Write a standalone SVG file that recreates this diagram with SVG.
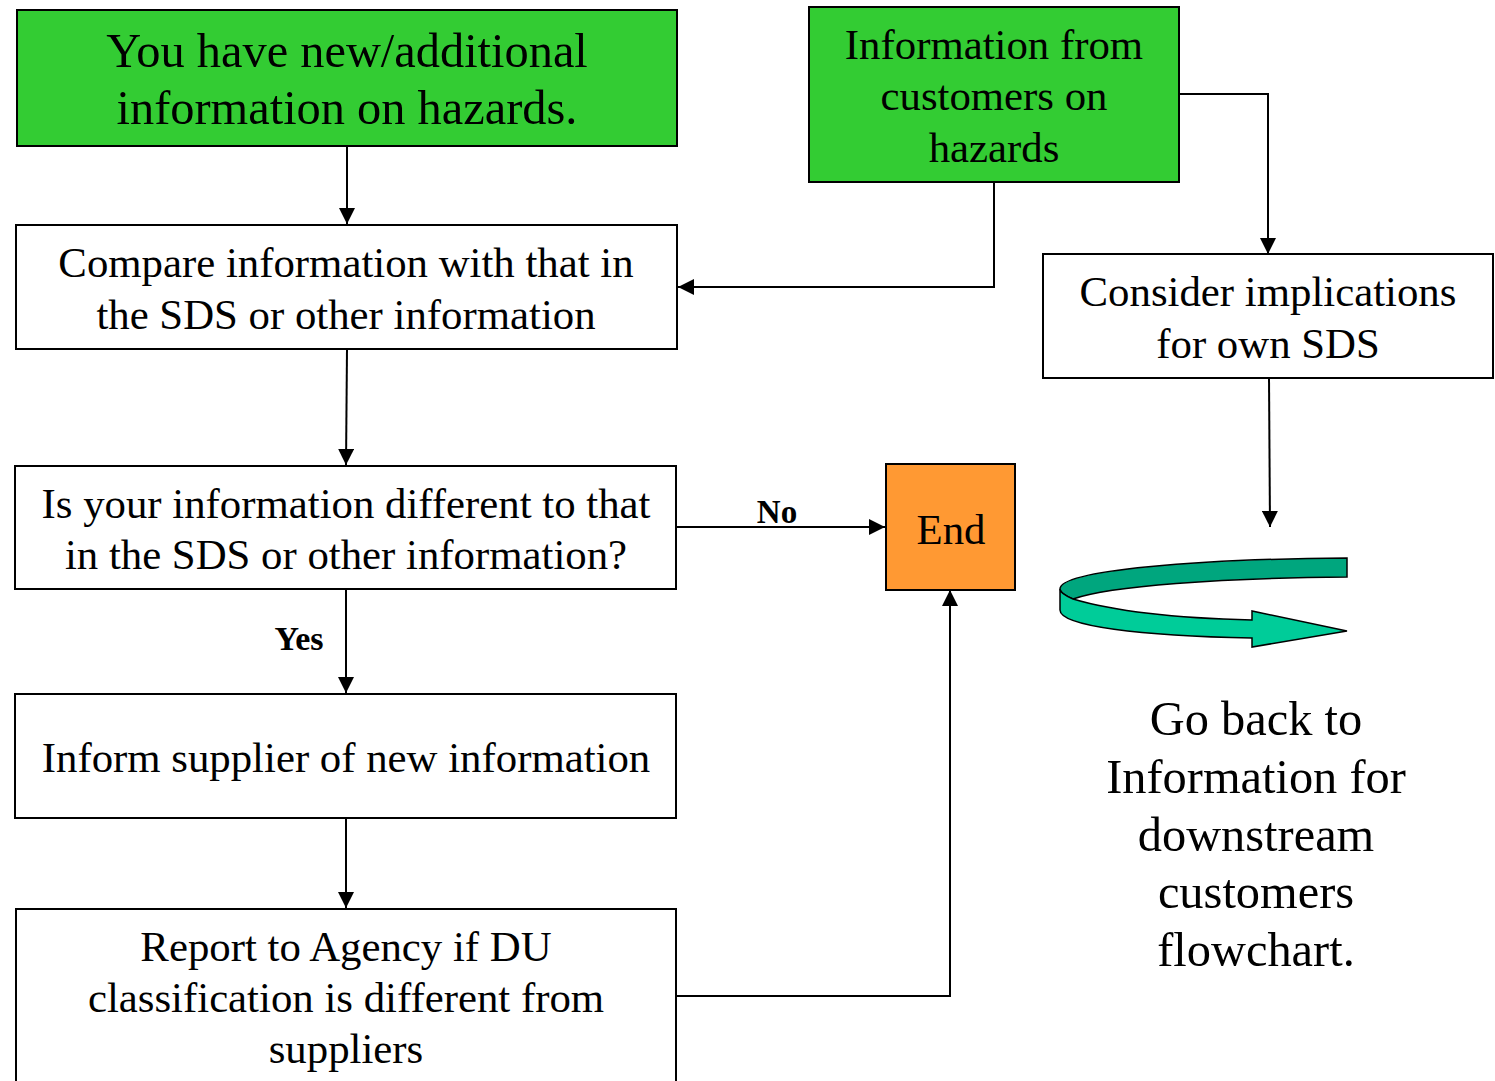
<svg xmlns="http://www.w3.org/2000/svg" width="1495" height="1081" viewBox="0 0 1495 1081">
<defs>
<marker id="a" viewBox="0 0 16 16" markerUnits="userSpaceOnUse" markerWidth="16" markerHeight="16" refX="16" refY="8" orient="auto"><path d="M0 0L16 8L0 16Z" fill="#000"/></marker>
</defs>
<style>
text{font-family:"Liberation Serif","Times New Roman",serif;text-anchor:middle;fill:#000}
.b{stroke:#000;stroke-width:2;fill:#fff}
.g{fill:#33cc33}
.o{fill:#ff9933}
.t{font-size:48.4px}
.m{font-size:42.8px}
.s{font-size:33px;font-weight:bold}
.c{fill:none;stroke:#000;stroke-width:2;marker-end:url(#a)}
</style>
<rect width="1495" height="1081" fill="#fff"/>
<g id="connectors">
<path class="c" d="M347 146V224"/>
<path class="c" d="M994 182V287H678"/>
<path class="c" d="M1180 94H1268V254"/>
<path class="c" d="M347 349L346 465"/>
<path class="c" d="M676 527H885"/>
<path class="c" d="M346 589V693"/>
<path class="c" d="M346 818V908"/>
<path class="c" d="M677 996H950V590"/>
<path class="c" d="M1269 378L1270 527"/>
</g>
<g id="n1"><rect class="b g" x="17" y="10" width="660" height="136"/><text class="t" x="347" y="67">You have new/additional</text><text class="t" x="347" y="124">information on hazards.</text></g>
<g id="n2"><rect class="b g" x="809" y="7" width="370" height="175"/><text class="m" x="994" y="59">Information from</text><text class="m" x="994" y="110">customers on</text><text class="m" x="994" y="162">hazards</text></g>
<g id="n3"><rect class="b" x="16" y="225" width="661" height="124"/><text class="m" x="346" y="277">Compare information with that in</text><text class="m" x="346" y="329">the SDS or other information</text></g>
<g id="n4"><rect class="b" x="1043" y="254" width="450" height="124"/><text class="m" x="1268" y="306">Consider implications</text><text class="m" x="1268" y="358">for own SDS</text></g>
<g id="n5"><rect class="b" x="15" y="466" width="661" height="123"/><text class="m" x="346" y="518">Is your information different to that</text><text class="m" x="346" y="569">in the SDS or other information?</text></g>
<g id="n6"><rect class="b o" x="886" y="464" width="129" height="126"/><text class="m" x="951" y="544">End</text></g>
<g id="n7"><rect class="b" x="15" y="694" width="661" height="124"/><text class="m" x="346" y="772">Inform supplier of new information</text></g>
<g id="n8"><rect class="b" x="16" y="909" width="660" height="180"/><text class="m" x="346" y="961">Report to Agency if DU</text><text class="m" x="346" y="1012">classification is different from</text><text class="m" x="346" y="1063">suppliers</text></g>
<g id="labels"><text class="s" x="777" y="523">No</text><text class="s" x="299" y="650" style="font-size:34px">Yes</text></g>
<g id="curved-arrow">
<path d="M1347 558C1200 559 1060 570 1060 589C1060 593 1066 596 1073 599C1110 586 1220 578 1347 577Z" fill="#00a67e" stroke="#000" stroke-width="1.5"/>
<path d="M1060 589C1060 593 1066 596 1073 599C1110 610 1170 618 1252 620V611L1347 631L1252 647V638C1140 636 1060 626 1060 610Z" fill="#00cc99" stroke="#000" stroke-width="1.5"/>
</g>
<g id="note"><text class="t" x="1256" y="735">Go back to</text><text class="t" x="1256" y="793">Information for</text><text class="t" x="1256" y="851">downstream</text><text class="t" x="1256" y="908">customers</text><text class="t" x="1256" y="966">flowchart.</text></g>
</svg>
